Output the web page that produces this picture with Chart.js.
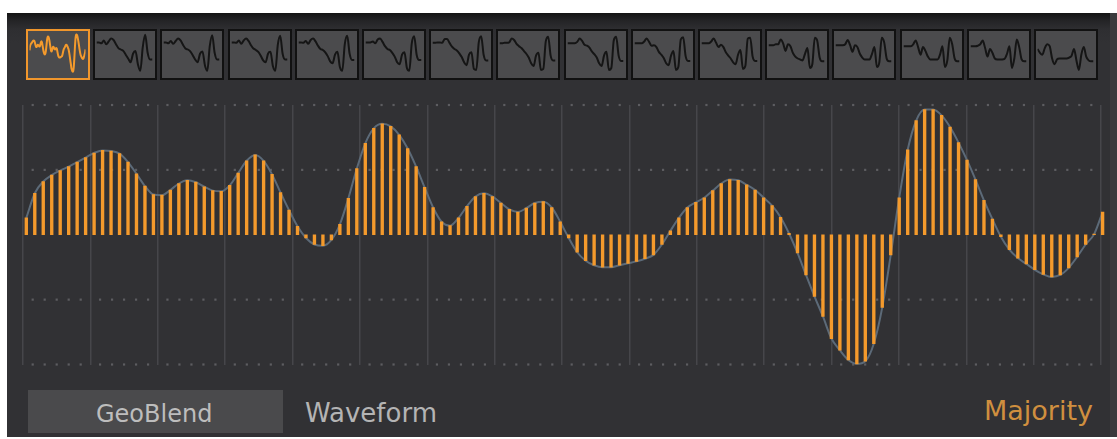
<!DOCTYPE html>
<html><head><meta charset="utf-8">
<script src="https://cdn.jsdelivr.net/npm/chart.js@4.4.1/dist/chart.umd.min.js"></script>
<style>
html,body{margin:0;padding:0;background:#fff;width:1117px;height:439px;overflow:hidden;font-family:"DejaVu Sans",sans-serif;}
#panel{position:absolute;left:7px;top:13px;width:1110px;height:424px;background:linear-gradient(#141414 0px,#232325 7px,#2e2e31 16px,#313134 30px);}
#rstrip{position:absolute;left:1110px;top:13px;width:7px;height:424px;background:#3a3a3d;}
.thumb{position:absolute;top:29px;width:64px;height:51px;box-sizing:border-box;border:2.5px solid #111;background:#4b4b4d;}
.thumb.sel{border-color:#f0962c;}
.thumb canvas{position:absolute;left:0;top:0;}
#mainwrap{position:absolute;left:0;top:90px;width:1117px;height:290px;}
#btn{position:absolute;left:28px;top:390px;width:255px;height:43px;background:#4a4a4c;}
.lbl{position:absolute;white-space:nowrap;line-height:1;}
</style>
</head><body>
<div id="panel"></div>
<div id="rstrip"></div>
<div id="thumbs"></div>
<div id="mainwrap"><canvas id="main" width="1117" height="290"></canvas></div>
<div id="btn"></div>
<div class="lbl" style="left:96px;top:401.5px;font-size:24px;color:#bdbdbd;">GeoBlend</div>
<div class="lbl" style="left:305px;top:399.7px;font-size:26px;color:#b4b4b4;">Waveform</div>
<div class="lbl" style="right:24px;top:396.5px;font-size:27px;color:#cf8f3f;">Majority</div>
<script>
// ---- main waveform (one value per stem) ----
const sampleIndex = Array.from({length:128},(_,i)=>i);
const waveValues = [
 0.26,0.64,0.82,0.92,0.99,1.05,1.12,1.19,1.26,1.30,1.29,1.25,1.12,0.94,0.75,0.62,
 0.61,0.69,0.79,0.84,0.81,0.74,0.68,0.67,0.76,0.95,1.14,1.23,1.14,0.93,0.65,0.38,
 0.13,-0.05,-0.15,-0.17,-0.08,0.16,0.56,1.02,1.41,1.64,1.71,1.67,1.54,1.33,1.05,0.73,
 0.42,0.20,0.14,0.26,0.44,0.59,0.64,0.59,0.49,0.39,0.35,0.41,0.49,0.51,0.42,0.20,
 -0.05,-0.27,-0.40,-0.47,-0.50,-0.50,-0.47,-0.44,-0.41,-0.37,-0.31,-0.15,0.06,0.26,0.42,0.50,
 0.57,0.68,0.79,0.85,0.84,0.77,0.69,0.57,0.45,0.27,0.02,-0.28,-0.62,-0.95,-1.26,-1.60,
 -1.78,-1.93,-1.99,-1.95,-1.68,-1.12,-0.31,0.57,1.31,1.76,1.93,1.93,1.84,1.66,1.42,1.15,
 0.85,0.53,0.24,-0.03,-0.23,-0.36,-0.45,-0.54,-0.61,-0.65,-0.62,-0.51,-0.34,-0.15,0.01,0.35
];
const yGridValues = [2,1,-1,-2];
const xDivisions = 16;

// ---- thumbnail waveforms (thumbnail 1 = the main waveform) ----
const t02=[1.1,1.1,1.0,1.3,0.9,1.2,1.5,1.35,0.9,0.5,0.35,0.2,-0.2,-0.6,-1.0,-0.1,0.2,-1.2,-1.9,0.6,1.9,0.0,-0.7,-0.7];
const t03=[1.1,1.1,1.0,1.25,0.95,1.25,1.5,1.3,0.85,0.45,0.35,0.15,-0.25,-0.7,-1.0,-0.1,0.15,-1.3,-1.9,0.7,1.85,0.0,-0.7,-0.7];
const t04=[1.1,1.1,1.05,1.3,0.95,1.3,1.5,1.25,0.8,0.45,0.3,0.1,-0.3,-0.8,-1.0,-0.1,0.1,-1.4,-1.9,0.8,1.8,-0.1,-0.7,-0.7];
const t05=[1.1,1.1,1.05,1.25,0.95,1.35,1.5,1.2,0.75,0.4,0.3,0.05,-0.35,-0.9,-1.1,-0.2,0.1,-1.5,-1.9,0.9,1.8,-0.1,-0.75,-0.75];
const t06=[1.1,1.1,1.1,1.2,1.0,1.4,1.5,1.15,0.7,0.4,0.3,0.0,-0.4,-1.0,-1.2,-0.2,0.05,-1.6,-1.9,1.0,1.75,-0.2,-0.75,-0.75];
const t07=[1.05,1.05,1.1,1.1,1.05,1.45,1.45,1.05,0.65,0.4,0.25,-0.05,-0.45,-1.0,-1.3,-0.2,0.05,-1.7,-1.8,1.1,1.75,-0.2,-0.8,-0.8];
const t08=[1.0,1.0,1.05,1.05,1.1,1.5,1.35,0.95,0.7,0.5,0.2,-0.1,-0.5,-1.1,-1.4,-0.3,0.0,-1.8,-1.7,1.2,1.7,-0.3,-0.8,-0.8];
const t09=[1.0,1.0,1.0,1.0,1.15,1.5,1.25,0.85,0.75,0.55,0.15,-0.15,-0.5,-1.1,-1.4,-0.3,0.1,-1.8,-1.6,1.3,1.7,-0.3,-0.85,-0.85];
const t10=[1.0,1.0,1.0,1.0,1.2,1.5,1.15,0.75,0.8,0.6,0.1,-0.2,-0.55,-1.1,-1.3,-0.3,0.2,-1.8,-1.5,1.4,1.65,-0.35,-0.85,-0.85];
const t11=[1.0,1.0,1.0,1.0,1.2,1.5,1.05,0.6,0.85,0.6,0.05,-0.3,-0.6,-1.0,-1.2,-0.2,0.3,-1.7,-1.4,1.5,1.6,-0.4,-0.85,-0.85];
const t12=[0.8,0.8,0.8,0.9,0.9,1.4,1.0,0.2,0.9,0.7,0.0,-0.4,-0.6,-0.7,-0.8,-0.1,0.5,-1.6,-1.2,1.6,1.3,-0.5,-0.9,-0.9];
const t13=[0.8,0.8,0.8,0.8,0.9,1.35,0.8,0.1,0.8,0.6,-0.1,-0.5,-0.7,-0.7,-0.7,-0.1,0.6,-1.5,-1.0,1.6,1.1,-0.6,-0.9,-0.9];
const t14=[0.7,0.7,0.7,0.7,0.9,1.3,0.6,-0.2,0.6,0.2,-0.4,-0.7,-0.7,-0.7,-0.7,-0.2,0.7,-1.5,-0.8,1.6,0.9,-0.6,-0.9,-0.9];
const t15=[0.7,0.7,0.7,0.75,0.9,1.3,0.5,-0.4,0.4,0.0,-0.6,-0.7,-0.7,-0.7,-0.65,-0.1,0.7,-1.6,-0.6,1.4,0.6,-0.7,-0.9,-0.9];
const t16=[0.4,0.0,-0.2,0.5,0.9,0.7,-0.6,-1.2,-0.7,-0.6,-0.6,-0.6,-0.6,-0.5,-0.3,0.4,-0.8,-1.8,-0.2,0.6,-0.4,-0.8,-0.9,-0.9];
const thumbWaves=[waveValues,t02,t03,t04,t05,t06,t07,t08,t09,t10,t11,t12,t13,t14,t15,t16];

const ORANGE='#f49a2c';

// thumbnails
const thumbsDiv=document.getElementById('thumbs');
thumbWaves.forEach((vals,k)=>{
  const d=document.createElement('div');
  d.className='thumb'+(k===0?' sel':'');
  d.style.left=(26+67.2*k).toFixed(1)+'px';
  const c=document.createElement('canvas');
  c.width=59;c.height=46;
  d.appendChild(c);thumbsDiv.appendChild(d);
  new Chart(c,{type:'line',
    data:{datasets:[{data:vals.map((v,i)=>({x:i,y:v})),borderColor:k===0?ORANGE:'#151515',borderWidth:2,pointRadius:0,tension:0.3,cubicInterpolationMode:'monotone'}]},
    options:{responsive:false,animation:false,events:[],
      layout:{padding:{left:1.5,right:1.5,top:0,bottom:0}},
      plugins:{legend:{display:false},tooltip:{enabled:false}},
      scales:{x:{type:'linear',display:false,min:0,max:vals.length-1},y:{display:false,min:-2.55,max:2.3}}}});
});

// main chart
const XMIN=-0.39, XMAX=126.81;
const dotPlugin={id:'dots',beforeDatasetsDraw(chart){
  const {ctx,scales:{x,y}}=chart;
  const xt=x.ticks.map(t=>x.getPixelForValue(t.value));
  ctx.save();ctx.fillStyle='#5d5d61';
  yGridValues.forEach(v=>{
    const py=y.getPixelForValue(v);
    for(let k=0;k<xt.length-1;k++){
      const c=(xt[k]+xt[k+1])/2;
      for(let j=-2;j<=2;j++){ctx.fillRect(c+j*12-1.1,py-1.1,2.2,2.2);}
    }
  });
  ctx.restore();
}};
new Chart(document.getElementById('main'),{
  data:{datasets:[
    {type:'bar',data:sampleIndex.map((i)=>({x:i,y:waveValues[i]})),backgroundColor:ORANGE,barThickness:2.7,borderWidth:0,order:1,clip:6},
    {type:'line',data:sampleIndex.map((i)=>({x:i,y:waveValues[i]})),borderColor:'#5c6a78',borderWidth:2,pointRadius:0,cubicInterpolationMode:'monotone',order:2,clip:6}
  ]},
  options:{responsive:false,animation:false,events:[],
    layout:{padding:{left:23,right:16,top:15,bottom:15.5}},
    plugins:{legend:{display:false},tooltip:{enabled:false}},
    scales:{
      x:{type:'linear',min:XMIN,max:XMAX,offset:false,
        afterBuildTicks:(s)=>{s.ticks=Array.from({length:xDivisions+1},(_,k)=>({value:XMIN+k*(XMAX-XMIN)/xDivisions}));},
        ticks:{display:false},border:{display:false},
        grid:{color:'#46464a',lineWidth:1.5,drawTicks:false,offset:false}},
      y:{display:false,min:-2,max:2}
    }},
  plugins:[dotPlugin]
});
</script>
</body></html>
